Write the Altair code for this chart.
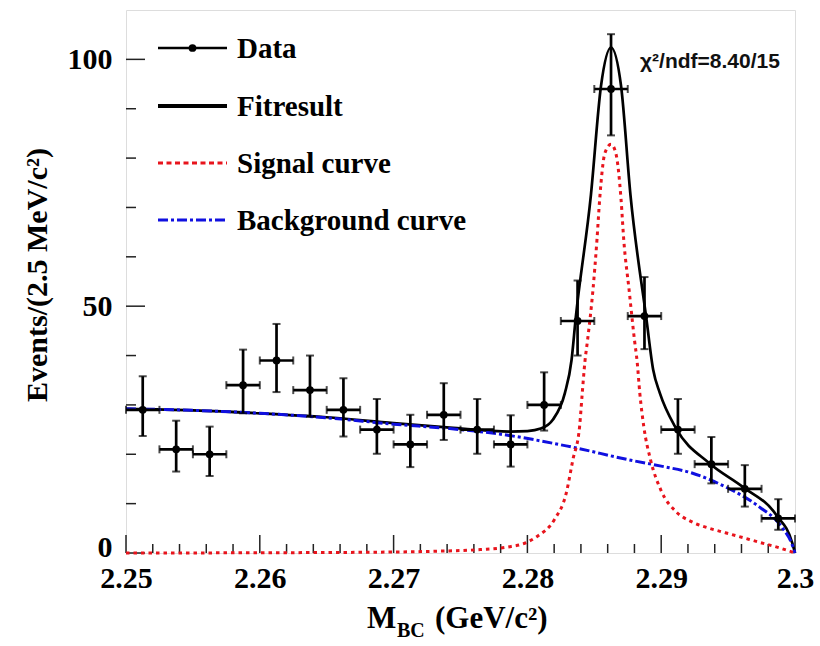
import altair as alt
import pandas as pd

# ---------------- data ----------------
BIN_WIDTH = 0.0025
bin_centers = [2.25125, 2.25375, 2.25625, 2.25875, 2.26125, 2.26375, 2.26625, 2.26875,
               2.27125, 2.27375, 2.27625, 2.27875, 2.28125, 2.28375, 2.28625, 2.28875,
               2.29125, 2.29375, 2.29625, 2.29875]
counts = [29, 21, 20, 34, 39, 33, 29, 25, 22, 28, 25, 22, 30, 47, 94, 48, 25, 18, 13, 7]
err_low = [23.7, 16.5, 15.6, 28.3, 32.6, 27.6, 23.6, 20.1, 17.4, 22.9,
           20.1, 17.5, 24.8, 40.0, 84.6, 41.3, 20.1, 14.1, 9.4, 4.7]
err_high = [35.8, 26.8, 25.6, 41.2, 46.4, 40.0, 35.4, 31.2, 28.0, 34.4,
            31.2, 27.9, 36.6, 55.2, 105.1, 55.9, 31.2, 23.5, 17.8, 10.9]

total_x = [2.2500, 2.2550, 2.2600, 2.2650, 2.2700, 2.2742, 2.2787, 2.2800, 2.2810,
           2.2819, 2.2828, 2.2833, 2.2836, 2.28475, 2.2855, 2.28625, 2.2870, 2.2877,
           2.2889, 2.2894, 2.2899, 2.2911, 2.2936, 2.2961, 2.2986, 2.2998, 2.3000]
total_y = [29.2, 28.9, 28.3, 27.5, 26.3, 25.4, 24.6, 24.7, 25.2,
           27.0, 32.4, 39.1, 47.3, 72.6, 94.6, 102.4, 94.6, 72.6,
           47.3, 37.1, 32.4, 25.3, 18.2, 13.4, 7.7, 2.0, 0.0]

signal_x = [2.2500, 2.2600, 2.2680, 2.2730, 2.2765, 2.2785, 2.2800, 2.2807, 2.2820,
            2.2829, 2.2834, 2.2839, 2.2841, 2.2843, 2.2845, 2.2849, 2.2852, 2.2854,
            2.2858, 2.28625, 2.2866, 2.2870, 2.2872, 2.2876, 2.2880, 2.2882, 2.2884,
            2.2887, 2.2892, 2.2900, 2.2911, 2.2923, 2.2936, 2.2948, 2.2973, 2.2990, 2.3000]
signal_y = [0.0, 0.05, 0.15, 0.35, 0.7, 1.2, 2.2, 3.3, 6.7,
            12.1, 18.9, 25.6, 32.4, 38.8, 43.2, 53.3, 63.5, 71.6,
            81.1, 82.8, 81.1, 71.6, 63.5, 53.3, 43.2, 38.8, 32.4,
            25.6, 18.9, 12.6, 8.4, 6.3, 5.0, 4.1, 2.2, 0.9, 0.0]

bkg_x = [2.2500, 2.2550, 2.2600, 2.2650, 2.2700, 2.2742, 2.2779, 2.2829, 2.2879,
         2.2900, 2.2923, 2.2948, 2.2973, 2.2990, 2.2998, 2.3000]
bkg_y = [29.2, 28.9, 28.3, 27.4, 26.1, 25.2, 24.1, 21.7, 18.7,
         17.6, 16.2, 13.4, 9.4, 5.3, 1.6, 0.0]

x_major = [2.25, 2.26, 2.27, 2.28, 2.29, 2.30]
x_minor = [2.252, 2.254, 2.256, 2.258, 2.262, 2.264, 2.266, 2.268, 2.272, 2.274,
           2.276, 2.278, 2.282, 2.284, 2.286, 2.288, 2.292, 2.294, 2.296, 2.298]
y_major = [0, 50, 100]
y_minor = [10, 20, 30, 40, 60, 70, 80, 90]

legend_labels = ["Data", "Fitresult", "Signal curve", "Background curve"]
chi2_text = "χ²/ndf=8.40/15"
y_title = "Events/(2.5 MeV/c²)"
x_title_parts = ["M", "BC", "(GeV/c²)"]

# ---------------- layout / style ----------------
W, H = 669, 543
SERIF = "Liberation Serif"
RED = "#e8141c"
BLUE = "#1010e0"

xs = alt.Scale(domain=[2.25, 2.30], nice=False, zero=False)
ys = alt.Scale(domain=[0, 110], nice=False, zero=True)

LABEL_STYLE = dict(labelFont=SERIF, labelFontWeight="bold", labelFontSize=30,
                   labelColor="black", ticks=False, domain=False, grid=False, title=None)
xax = alt.Axis(values=x_major, format=".2~f", labelPadding=10, labelFlush=False, **LABEL_STYLE)
yax = alt.Axis(values=y_major, format="d", labelPadding=14,
               labelOffset={"condition": {"test": "datum.value === 0", "value": -6}, "value": 0},
               **LABEL_STYLE)

data_df = pd.DataFrame({"x": bin_centers, "n": counts, "lo": err_low, "hi": err_high})
data_df["xlo"] = data_df["x"] - BIN_WIDTH / 2
data_df["xhi"] = data_df["x"] + BIN_WIDTH / 2

total_df = pd.DataFrame({"x": total_x, "y": total_y})
signal_df = pd.DataFrame({"x": signal_x, "y": signal_y})
bkg_df = pd.DataFrame({"x": bkg_x, "y": bkg_y})


def X(field):
    return alt.X(field, type="quantitative", scale=xs, axis=xax)


def Y(field):
    return alt.Y(field, type="quantitative", scale=ys, axis=yax)


# ticks drawn inward
xmaj = alt.Chart(pd.DataFrame({"v": x_major})).mark_rule(color="#222", strokeWidth=1.5).encode(
    x=X("v"), y=alt.value(H), y2=alt.value(H - 18))
xmin = alt.Chart(pd.DataFrame({"v": x_minor})).mark_rule(color="#222", strokeWidth=1.5).encode(
    x=X("v"), y=alt.value(H), y2=alt.value(H - 9))
ymaj = alt.Chart(pd.DataFrame({"v": y_major})).mark_rule(color="#222", strokeWidth=1.5).encode(
    y=Y("v"), x=alt.value(0), x2=alt.value(19))
ymin = alt.Chart(pd.DataFrame({"v": y_minor})).mark_rule(color="#222", strokeWidth=1.5).encode(
    y=Y("v"), x=alt.value(0), x2=alt.value(10))

total_line = alt.Chart(total_df).mark_line(color="black", strokeWidth=2.7,
                                           interpolate="monotone").encode(x=X("x"), y=Y("y"))
bkg_line = alt.Chart(bkg_df).mark_line(color=BLUE, strokeWidth=3, strokeDash=[10, 3, 3, 3],
                                       interpolate="monotone").encode(x=X("x"), y=Y("y"))
sig_line = alt.Chart(signal_df).mark_line(color=RED, strokeWidth=3, strokeDash=[3.5, 4],
                                          interpolate="monotone").encode(x=X("x"), y=Y("y"))

base = alt.Chart(data_df)
vbar = base.mark_rule(color="black", strokeWidth=2.7).encode(x=X("x"), y=Y("lo"), y2="hi")
hbar = base.mark_rule(color="black", strokeWidth=2.7).encode(x=X("xlo"), x2="xhi", y=Y("n"))
cap_top = base.mark_tick(color="black", orient="horizontal", size=8, thickness=2).encode(x=X("x"), y=Y("hi"))
cap_bot = base.mark_tick(color="black", orient="horizontal", size=8, thickness=2).encode(x=X("x"), y=Y("lo"))
cap_l = base.mark_tick(color="black", orient="vertical", size=8, thickness=2).encode(x=X("xlo"), y=Y("n"))
cap_r = base.mark_tick(color="black", orient="vertical", size=8, thickness=2).encode(x=X("xhi"), y=Y("n"))
dots = base.mark_point(filled=True, color="black", size=60, opacity=1).encode(x=X("x"), y=Y("n"))

# legend (drawn by hand, inside the frame)
LX1, LX2, LTX = 32, 101, 111
LY = [38, 96, 153, 210]


def one(label):
    return alt.Chart(pd.DataFrame({"label": [label]}))


leg = []
leg.append(one(legend_labels[0]).mark_rule(color="black", strokeWidth=2.5).encode(
    x=alt.value(LX1), x2=alt.value(LX2), y=alt.value(LY[0])))
leg.append(one(legend_labels[0]).mark_point(filled=True, color="black", size=60, opacity=1).encode(
    x=alt.value((LX1 + LX2) / 2), y=alt.value(LY[0])))
leg.append(one(legend_labels[1]).mark_rule(color="black", strokeWidth=4).encode(
    x=alt.value(LX1), x2=alt.value(LX2), y=alt.value(LY[1])))
leg.append(one(legend_labels[2]).mark_rule(color=RED, strokeWidth=3, strokeDash=[5, 3.5]).encode(
    x=alt.value(LX1), x2=alt.value(LX2), y=alt.value(LY[2])))
leg.append(one(legend_labels[3]).mark_rule(color=BLUE, strokeWidth=3, strokeDash=[10, 3, 3, 3]).encode(
    x=alt.value(LX1), x2=alt.value(LX2), y=alt.value(LY[3])))
for lab, yy in zip(legend_labels, LY):
    leg.append(one(lab).mark_text(font=SERIF, fontWeight="bold", fontSize=29, align="left",
                                  baseline="middle", color="black").encode(
        text="label:N", x=alt.value(LTX), y=alt.value(yy + 1)))

chi = one(chi2_text).mark_text(font="Liberation Sans", fontWeight="bold", fontSize=21,
                               align="left", baseline="alphabetic", color="#111").encode(
    text="label:N", x=alt.value(514), y=alt.value(58))

ytitle = one(y_title).mark_text(font=SERIF, fontWeight="bold", fontSize=30, angle=270,
                                align="center", baseline="alphabetic", color="black").encode(
    text="label:N", x=alt.value(-79), y=alt.value(265))

xt1 = one(x_title_parts[0]).mark_text(font=SERIF, fontWeight="bold", fontSize=31, align="left",
                                      baseline="alphabetic", color="black").encode(
    text="label:N", x=alt.value(241), y=alt.value(618))
xt2 = one(x_title_parts[1]).mark_text(font=SERIF, fontWeight="bold", fontSize=20, align="left",
                                      baseline="alphabetic", color="black").encode(
    text="label:N", x=alt.value(271), y=alt.value(627))
xt3 = one(x_title_parts[2]).mark_text(font=SERIF, fontWeight="bold", fontSize=31, align="left",
                                      baseline="alphabetic", color="black").encode(
    text="label:N", x=alt.value(309), y=alt.value(618))

chart = alt.layer(
    xmaj, xmin, ymaj, ymin,
    total_line, bkg_line, sig_line,
    vbar, hbar, cap_top, cap_bot, cap_l, cap_r, dots,
    *leg, chi, ytitle, xt1, xt2, xt3,
).properties(
    width=W, height=H,
    autosize=alt.AutoSizeParams(type="none"),
    padding={"left": 126, "top": 10, "right": 25, "bottom": 93},
).configure_view(
    stroke="#222", strokeWidth=2
).configure(background="white")

chart.save("out.html", embed_options={"renderer": "svg", "actions": False})
